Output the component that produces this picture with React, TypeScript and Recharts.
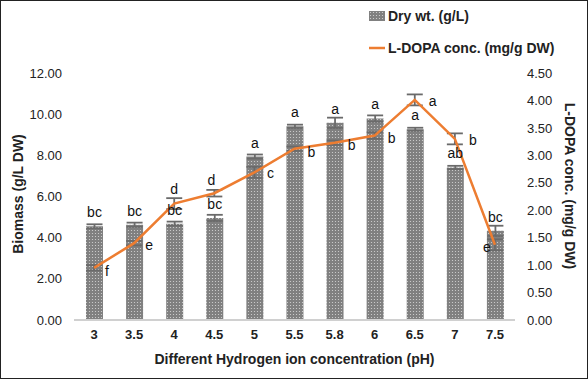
import React from 'react';
import { ComposedChart, Bar, Line, XAxis, YAxis, ErrorBar, LabelList } from 'recharts';

const phLevels = ['3', '3.5', '4', '4.5', '5', '5.5', '5.8', '6', '6.5', '7', '7.5'];
const dryWt = [4.55, 4.63, 4.68, 4.96, 7.94, 9.41, 9.58, 9.79, 9.27, 7.41, 4.33];
const dryWtErr = [0.1, 0.1, 0.1, 0.15, 0.1, 0.08, 0.25, 0.15, 0.07, 0.08, 0.25];
const dryLetters = ['bc', 'bc', 'bc', 'bc', 'a', 'a', 'a', 'a', 'a', 'ab', 'bc'];
const ldopa = [0.95, 1.4, 2.12, 2.31, 2.69, 3.12, 3.23, 3.36, 4.01, 3.3, 1.37];
const ldopaErr = [0.05, 0.04, 0.1, 0.06, 0.1, 0.04, 0.04, 0.06, 0.1, 0.1, 0.1];
const ldopaLetters = ['f', 'e', 'd', 'd', 'c', 'b', 'b', 'b', 'a', 'b', 'e'];
const leftTicks = [0, 2, 4, 6, 8, 10, 12];
const rightTicks = [0, 0.5, 1, 1.5, 2, 2.5, 3, 3.5, 4, 4.5];

// label nudges for the line letters (dx, dy)
const lineLabelOffsets = [
  [13, 3], [15, 2], [0, -15], [-3, -13], [16, 1], [17, 3],
  [17, 2], [17, 2], [18, 1], [18, 1], [-8, 2],
];

const data = phLevels.map((ph, i) => ({
  ph,
  dry: dryWt[i],
  dryErr: dryWtErr[i],
  dryLetter: dryLetters[i],
  ldopa: ldopa[i],
  ldopaErr: ldopaErr[i],
  ldopaLetter: ldopaLetters[i],
}));

const FONT = '"Liberation Sans", Arial, sans-serif';
const ORANGE = '#ED7D31';
const titleStyle = { fontSize: 14, fontFamily: FONT, fontWeight: 'bold', fill: '#222' } as const;

const LineLetter = (props: any) => {
  const { x, y, index, value } = props;
  const [dx, dy] = lineLabelOffsets[index] || [0, 0];
  return (
    <text x={x + dx} y={y + dy} textAnchor="middle" dominantBaseline="central"
      fontSize={14} fontFamily={FONT} fill="#111">
      {value}
    </text>
  );
};

const LeftTitle = () => (
  <text x={17} y={193} transform="rotate(-90 17 193)" textAnchor="middle" dominantBaseline="central" style={titleStyle}>
    Biomass (g/L DW)
  </text>
);

const RightTitle = () => (
  <text x={569} y={185} transform="rotate(90 569 185)" textAnchor="middle" dominantBaseline="central" style={titleStyle}>
    L-DOPA conc. (mg/g DW)
  </text>
);

const App: React.FC = () => {
  return (
    <div style={{ position: 'fixed', left: 0, top: 0, width: 588, height: 379, boxSizing: 'border-box', border: '1px solid #222', background: '#fff', overflow: 'hidden' }}>
      <ComposedChart width={586} height={377} data={data}
        margin={{ top: 72, right: 0, bottom: 0, left: 0 }} style={{ position: 'absolute', left: 0, top: 0 }}>
        <defs>
          <pattern id="dotPattern" width={3} height={3} patternUnits="userSpaceOnUse">
            <rect width={3} height={3} fill="#808080" />
            <circle cx={1.5} cy={1.5} r={0.6} fill="#d6d6d6" />
          </pattern>
        </defs>
        <XAxis dataKey="ph" height={58} axisLine={{ stroke: '#d0d0d0', strokeWidth: 2 }} tickLine={false}
          tick={{ fontSize: 13, fontFamily: FONT, fill: '#222', fontWeight: 'bold' }} tickMargin={4} interval={0}
          label={{ value: 'Different Hydrogen ion concentration (pH)', position: 'insideBottom', offset: 14, style: titleStyle }} />
        <YAxis yAxisId="left" domain={[0, 12]} ticks={leftTicks} width={73} axisLine={false} tickLine={false}
          tickFormatter={(v: number) => v.toFixed(2)} tickMargin={6}
          tick={{ fontSize: 13, fontFamily: FONT, fill: '#222' }}
          label={<LeftTitle />} />
        <YAxis yAxisId="right" orientation="right" domain={[0, 4.5]} ticks={rightTicks} width={72}
          axisLine={false} tickLine={false} tickFormatter={(v: number) => v.toFixed(2)} tickMargin={6}
          tick={{ fontSize: 13, fontFamily: FONT, fill: '#222' }}
          label={<RightTitle />} />
        <Bar yAxisId="left" dataKey="dry" name="Dry wt. (g/L)" fill="url(#dotPattern)" barSize={17}
          isAnimationActive={false}>
          <ErrorBar dataKey="dryErr" width={8} stroke="#6a6a6a" strokeWidth={1.8} />
          <LabelList dataKey="dryLetter" position="top" offset={9}
            style={{ fontSize: 14, fontFamily: FONT, fill: '#111' }} />
        </Bar>
        <Line yAxisId="right" dataKey="ldopa" name="L-DOPA conc. (mg/g DW)" stroke={ORANGE} strokeWidth={2.5}
          dot={false} activeDot={false} type="linear" isAnimationActive={false}>
          <ErrorBar dataKey="ldopaErr" width={8} stroke="#6a6a6a" strokeWidth={1.8} />
          <LabelList dataKey="ldopaLetter" content={<LineLetter />} />
        </Line>
      </ComposedChart>
      <div style={{ position: 'absolute', left: 368, top: 5, fontFamily: FONT, fontWeight: 'bold', fontSize: 14, color: '#222' }}>
        <div style={{ display: 'flex', alignItems: 'center', height: 20 }}>
          <svg width={16} height={10} style={{ marginRight: 3 }}>
            <defs>
              <pattern id="legendDots" width={3} height={3} patternUnits="userSpaceOnUse">
                <rect width={3} height={3} fill="#808080" />
                <circle cx={1.5} cy={1.5} r={0.6} fill="#d6d6d6" />
              </pattern>
            </defs>
            <rect width={16} height={10} fill="url(#legendDots)" />
          </svg>
          Dry wt. (g/L)
        </div>
        <div style={{ display: 'flex', alignItems: 'center', height: 20, marginTop: 12 }}>
          <svg width={16} height={10} style={{ marginRight: 3 }}>
            <line x1={0} y1={5} x2={16} y2={5} stroke={ORANGE} strokeWidth={2.5} />
          </svg>
          L-DOPA conc. (mg/g DW)
        </div>
      </div>
    </div>
  );
};

export default App;
